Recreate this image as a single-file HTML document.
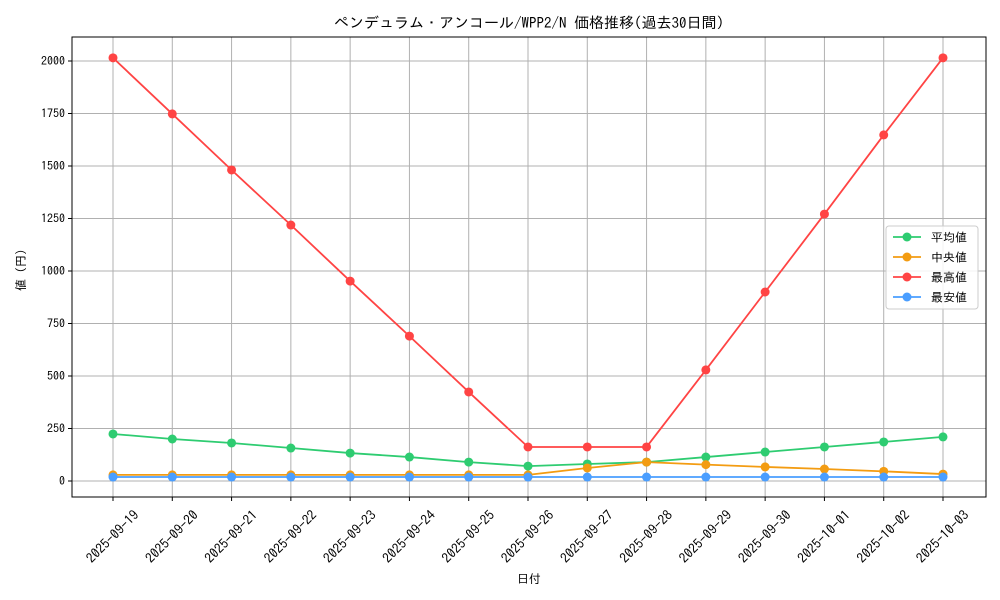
<!DOCTYPE html>
<html><head><meta charset="utf-8"><style>
body{margin:0;background:#fff;}
svg{display:block;font-family:"IPAGothic","Noto Sans CJK JP",sans-serif;}
</style></head><body>
<svg id="chart" width="1000" height="600"></svg>
<script>
const categories=["2025-09-19","2025-09-20","2025-09-21","2025-09-22","2025-09-23","2025-09-24","2025-09-25","2025-09-26","2025-09-27","2025-09-28","2025-09-29","2025-09-30","2025-10-01","2025-10-02","2025-10-03"];
const avgValues=[224,200,181,157,133,114,90,71,81,90,114,138,162,186,210];
const medianValues=[29,29,29,29,29,29,29,29,62,90,78,67,57,46,33];
const maxValues=[2015,1748,1481,1219,952,690,424,162,162,162,529,900,1271,1648,2015];
const minValues=[19,19,19,19,19,19,19,19,19,19,19,19,19,19,19];
const yTicks=[0,250,500,750,1000,1250,1500,1750,2000];
const seriesNames=["平均値","中央値","最高値","最安値"];
const colors=["#2ecc71","#f39c12","#ff4444","#4a9eff"];
const NS="http://www.w3.org/2000/svg";
const svg=document.getElementById("chart");
const L=72,R=986,T=37,B=497;
const xS=i=>113+i*(943-113)/(categories.length-1);
const yS=v=>481-v*0.21;
function mk(tag,attrs,parent){const e=document.createElementNS(NS,tag);for(const k in attrs)e.setAttribute(k,attrs[k]);(parent||svg).appendChild(e);return e;}
yTicks.forEach(v=>{
  const g=mk("line",{x1:L,x2:R,y1:yS(v),y2:yS(v),stroke:"#b0b0b0","stroke-width":1});
  
  
  mk("line",{x1:L-4,x2:L,y1:yS(v),y2:yS(v),stroke:"#000"});
  const t=mk("text",{x:L-7,y:yS(v)+4,"text-anchor":"end","font-size":12});
  t.textContent=v;
  
  
});
categories.forEach((c,i)=>{
  const g=mk("line",{x1:xS(i),x2:xS(i),y1:T,y2:B,stroke:"#b0b0b0","stroke-width":1});
  
  
  mk("line",{x1:xS(i),x2:xS(i),y1:B,y2:B+4,stroke:"#000"});
  const t=mk("text",{x:0,y:4,"text-anchor":"middle","font-size":13.5,transform:`translate(${xS(i)},${B+40}) rotate(-45)`});
  t.textContent=c;
  
  
});
const frame=mk("rect",{x:L,y:T,width:R-L,height:B-T,fill:"none",stroke:"#000","stroke-width":1});


[avgValues,medianValues,maxValues,minValues].forEach((vals,s)=>{
  const p=mk("polyline",{points:vals.map((v,i)=>xS(i)+","+yS(v)).join(" "),fill:"none",stroke:colors[s],"stroke-width":1.8});
  
  
  vals.forEach((v,i)=>{
    const c=mk("circle",{cx:xS(i),cy:yS(v),r:4.5,fill:colors[s]});
    
    
  });
});
const lg=mk("g",{});


mk("rect",{x:886,y:226,width:92,height:83,rx:3,fill:"#fff","fill-opacity":0.85,stroke:"#ccc"},lg);
seriesNames.forEach((n,s)=>{
  const y=237+s*20;
  mk("line",{x1:893,x2:921,y1:y,y2:y,stroke:colors[s],"stroke-width":1.8},lg);
  mk("circle",{cx:907,cy:y,r:4.5,fill:colors[s]},lg);
  const t=mk("text",{x:931,y:y+4.5,"font-size":12},lg);
  t.textContent=n;
  
  
});
const title=mk("text",{x:529,y:28,"text-anchor":"middle","font-size":15});
title.textContent="ペンデュラム・アンコール/WPP2/N 価格推移(過去30日間)";


const xt=mk("text",{x:529,y:583,"text-anchor":"middle","font-size":12});
xt.textContent="日付";


const yt=mk("text",{x:0,y:0,"text-anchor":"middle","font-size":12,transform:"translate(25,270) rotate(-90)"});
yt.textContent="値 (円)";


</script>
</body></html>
